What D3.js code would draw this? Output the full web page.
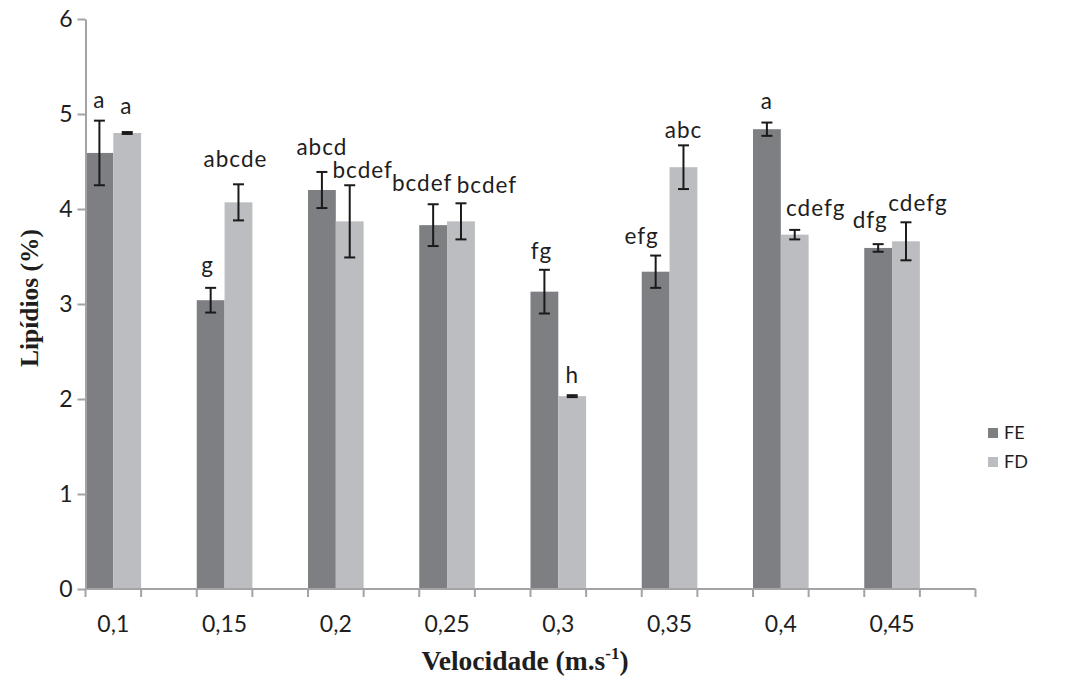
<!DOCTYPE html>
<html>
<head>
<meta charset="utf-8">
<script src="https://cdn.jsdelivr.net/npm/d3@7"></script>
<style>
  body { margin: 0; background: #fff; }
  svg { display: block; font-family: Lato, "Open Sans", sans-serif; }
  .serif { font-family: "Liberation Serif", "Times New Roman", serif; font-weight: bold; }
</style>
</head>
<body>
<svg id="chart" width="1069" height="679"></svg>
<script>
// Lipid content (%) by flow velocity, two processing groups
const categories = ["0,1", "0,15", "0,2", "0,25", "0,3", "0,35", "0,4", "0,45"];
const seriesNames = ["FE", "FD"];
const feMean = [4.59, 3.04, 4.20, 3.83, 3.13, 3.34, 4.84, 3.59];
const feErr  = [0.34, 0.13, 0.19, 0.22, 0.23, 0.17, 0.07, 0.04];
const fdMean = [4.80, 4.07, 3.87, 3.87, 2.03, 4.44, 3.73, 3.66];
const fdErr  = [0.01, 0.19, 0.38, 0.19, 0.01, 0.23, 0.05, 0.20];
const feLetters = ["a", "g", "abcd", "bcdef", "fg", "efg", "a", "dfg"];
const fdLetters = ["a", "abcde", "bcdef", "bcdef", "h", "abc", "cdefg", "cdefg"];
const yTicks = [0, 1, 2, 3, 4, 5, 6];

// Layout: small shifts that keep neighbouring significance letters apart
const feNudge = [[0, -1], [-3, -3], [0, -5], [-11, -1], [-3, 1], [-14, 0], [0, -2], [-8, -4]];
const fdNudge = [[-1, -6], [-3, -5], [13, 5], [26, 2], [0, 0], [0, 5], [21, -2], [12, 1]];

const colors = { FE: "#7e7f83", FD: "#bcbdc0" };
const axisColor = "#a3a3a6";
const textColor = "#1e1e1e";

const svg = d3.select("#chart");

const x0 = d3.scaleBand().domain(categories).range([85.5, 975.5]).padding(0);
// Each category slot holds the bar pair in its left half
const x1 = d3.scaleBand().domain(seriesNames).range([0, x0.bandwidth() / 2]).padding(0);
const y = d3.scaleLinear().domain([0, 6]).range([589, 19]);

const rows = categories.map((c, i) => ({
  cat: c,
  bars: [
    { key: "FE", mean: feMean[i], err: feErr[i], letter: feLetters[i], nudge: feNudge[i] },
    { key: "FD", mean: fdMean[i], err: fdErr[i], letter: fdLetters[i], nudge: fdNudge[i] }
  ]
}));

// Bars
const groups = svg.append("g").selectAll("g").data(rows).join("g")
  .attr("transform", d => `translate(${x0(d.cat)},0)`);

groups.selectAll("rect").data(d => d.bars).join("rect")
  .attr("x", d => x1(d.key))
  .attr("y", d => y(d.mean))
  .attr("width", x1.bandwidth())
  .attr("height", d => y(0) - y(d.mean))
  .attr("fill", d => colors[d.key]);

// Error bars
const eb = groups.selectAll("g.err").data(d => d.bars).join("g").attr("class", "err")
  .attr("stroke", "#1a1a1a").attr("stroke-width", 2).attr("fill", "none");
const cx = d => x1(d.key) + x1.bandwidth() / 2;
eb.append("line")
  .attr("x1", cx).attr("x2", cx)
  .attr("y1", d => y(d.mean + d.err)).attr("y2", d => y(d.mean - d.err));
eb.append("line")
  .attr("x1", d => cx(d) - 5.5).attr("x2", d => cx(d) + 5.5)
  .attr("y1", d => y(d.mean + d.err)).attr("y2", d => y(d.mean + d.err));
eb.append("line")
  .attr("x1", d => cx(d) - 5.5).attr("x2", d => cx(d) + 5.5)
  .attr("y1", d => y(d.mean - d.err)).attr("y2", d => y(d.mean - d.err));

// Significance letters above the error bars
groups.selectAll("text.letter").data(d => d.bars).join("text").attr("class", "letter")
  .attr("x", d => cx(d) + d.nudge[0])
  .attr("y", d => y(d.mean + d.err) - 12 + d.nudge[1])
  .attr("text-anchor", "middle")
  .attr("font-size", 22.5)
  .attr("letter-spacing", 1)
  .attr("fill", textColor)
  .text(d => d.letter);

// Y axis
const yAxis = svg.append("g").attr("transform", `translate(${x0.range()[0]},0)`)
  .call(d3.axisLeft(y).tickValues(yTicks).tickFormat(d3.format("d")).tickSize(8).tickSizeOuter(0).tickPadding(5));
yAxis.attr("font-family", null);
yAxis.select(".domain").attr("stroke", axisColor).attr("stroke-width", 2);
yAxis.selectAll(".tick line").attr("stroke", axisColor).attr("stroke-width", 2);
yAxis.selectAll(".tick text").attr("font-size", 23).attr("fill", textColor);

// X axis: baseline with ticks at every half-slot boundary
const xr = x0.range();
svg.append("line").attr("x1", xr[0]).attr("x2", xr[1]).attr("y1", y(0)).attr("y2", y(0))
  .attr("stroke", axisColor).attr("stroke-width", 2);
const tickXs = categories.flatMap(c => [x0(c), x0(c) + x0.bandwidth() / 2]).concat([xr[1]]);
svg.append("g").selectAll("line").data(tickXs).join("line")
  .attr("x1", d => d).attr("x2", d => d)
  .attr("y1", y(0)).attr("y2", y(0) + 8)
  .attr("stroke", axisColor).attr("stroke-width", 2);
svg.append("g").selectAll("text").data(categories).join("text")
  .attr("x", c => x0(c) + x0.bandwidth() / 4)
  .attr("y", 632)
  .attr("text-anchor", "middle")
  .attr("font-size", 23)
  .attr("fill", textColor)
  .text(c => c);

// Axis titles
const xTitle = svg.append("text").attr("class", "serif")
  .attr("x", 525).attr("y", 670)
  .attr("text-anchor", "middle")
  .attr("font-size", 27.5)
  .attr("fill", textColor);
xTitle.append("tspan").text("Velocidade (m.s");
xTitle.append("tspan").attr("dy", -11).attr("font-size", 17).text("-1");
xTitle.append("tspan").attr("dy", 11).text(")");

svg.append("text").attr("class", "serif")
  .attr("transform", "translate(38,298) rotate(-90)")
  .attr("text-anchor", "middle")
  .attr("font-size", 25.5)
  .attr("fill", textColor)
  .text("Lipídios (%)");

// Legend
const legend = svg.append("g").selectAll("g").data(seriesNames).join("g")
  .attr("transform", (d, i) => `translate(988,${428 + i * 29})`);
legend.append("rect").attr("width", 10).attr("height", 10).attr("fill", d => colors[d]);
legend.append("text").attr("x", 16).attr("y", 11)
  .attr("font-size", 18).attr("fill", textColor).text(d => d);
</script>
</body>
</html>
